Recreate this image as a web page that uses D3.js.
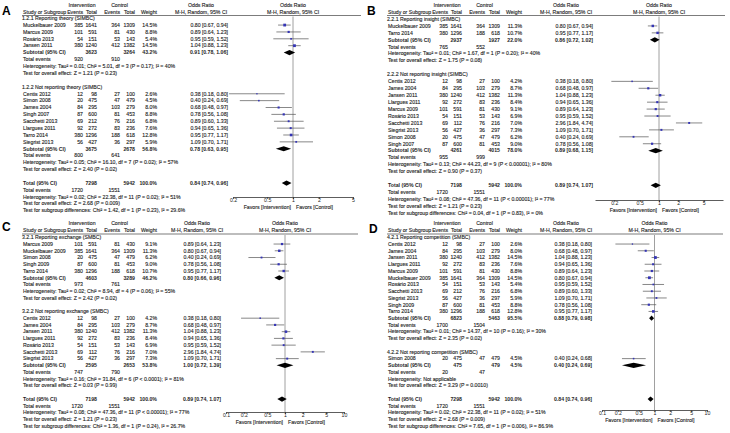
<!DOCTYPE html>
<html><head><meta charset="utf-8">
<script src="https://cdn.jsdelivr.net/npm/d3@7"></script>
<style>body{margin:0;background:#fff}svg{display:block}text{font-family:"Liberation Sans",Arial,sans-serif}</style>
</head><body><svg id="c" width="730" height="433"></svg>
<script>
// ---------- Panel A ----------
const aSubgroups = ["1.2.1 Reporting theory (SIMBC)", "1.2.2 Not reporting theory (SIMBC)"];
const aStudies1 = [
  ["Muckelbauer 2009",385,1641,364,1309,14.5,0.80,0.67,0.94],
  ["Marcus 2009",101,591,81,430,8.8,0.89,0.64,1.23],
  ["Rosário 2013",54,151,53,143,5.4,0.95,0.59,1.52],
  ["Jansen 2011",380,1240,412,1382,14.5,1.04,0.88,1.23]];
const aStudies2 = [
  ["Centis 2012",12,98,27,100,2.6,0.38,0.18,0.80],
  ["Simon 2008",20,475,47,479,4.5,0.40,0.24,0.69],
  ["James 2004",84,295,103,279,8.0,0.68,0.48,0.97],
  ["Singh 2007",87,600,81,453,8.8,0.78,0.56,1.08],
  ["Sacchetti 2013",69,212,76,216,6.8,0.89,0.60,1.33],
  ["Llargues 2011",92,272,83,236,7.6,0.94,0.65,1.36],
  ["Tarro 2014",380,1296,188,618,12.8,0.95,0.77,1.17],
  ["Siegrist 2013",56,427,36,297,5.9,1.09,0.70,1.71]];
const aSubtotals = [[3623,3264,43.2,0.91,0.78,1.06],[3675,2678,56.8,0.78,0.63,0.95]];
const aEvents = [[920,910],[800,641],[1720,1551]];
const aTotal = [7298,5942,100.0,0.84,0.74,0.96];
const aNotes = [
  "Heterogeneity: Tau² = 0.01; Chi² = 5.01, df = 3 (P = 0.17); I² = 40%",
  "Test for overall effect: Z = 1.21 (P = 0.23)",
  "Heterogeneity: Tau² = 0.05; Chi² = 16.10, df = 7 (P = 0.02); I² = 57%",
  "Test for overall effect: Z = 2.40 (P = 0.02)",
  "Heterogeneity: Tau² = 0.02; Chi² = 22.38, df = 11 (P = 0.02); I² = 51%",
  "Test for overall effect: Z = 2.68 (P = 0.009)",
  "Test for subgroup differences: Chi² = 1.42, df = 1 (P = 0.23), I² = 29.6%"];
const aTicks = [0.2,0.5,1,2,5];

// ---------- Panel B ----------
const bSubgroups = ["2.2.1 Reporting insight (SIMBC)", "2.2.2 Not reporting insight (SIMBC)"];
const bStudies1 = [
  ["Muckelbauer 2009",385,1641,364,1309,11.3,0.80,0.67,0.94],
  ["Tarro 2014",380,1296,188,618,10.7,0.95,0.77,1.17]];
const bStudies2 = [
  ["Centis 2012",12,98,27,100,4.2,0.38,0.18,0.80],
  ["James 2004",84,295,103,279,8.7,0.68,0.48,0.97],
  ["Jansen 2011",380,1240,412,1382,11.3,1.04,0.88,1.23],
  ["Llargues 2011",92,272,83,236,8.4,0.94,0.65,1.36],
  ["Marcus 2009",101,591,81,430,9.1,0.89,0.64,1.23],
  ["Rosário 2013",54,151,53,143,6.9,0.95,0.59,1.52],
  ["Sacchetti 2013",69,112,76,216,7.0,2.96,1.84,4.74],
  ["Siegrist 2013",56,427,36,297,7.3,1.09,0.70,1.71],
  ["Simon 2008",20,475,47,479,6.2,0.40,0.24,0.69],
  ["Singh 2007",87,600,81,453,9.0,0.78,0.56,1.08]];
const bSubtotals = [[2937,1927,22.0,0.86,0.72,1.02],[4261,4015,78.0,0.89,0.68,1.15]];
const bEvents = [[765,552],[955,999],[1720,1551]];
const bTotal = [7198,5942,100.0,0.89,0.74,1.07];
const bNotes = [
  "Heterogeneity: Tau² = 0.01; Chi² = 1.67, df = 1 (P = 0.20); I² = 40%",
  "Test for overall effect: Z = 1.75 (P = 0.08)",
  "Heterogeneity: Tau² = 0.13; Chi² = 44.23, df = 9 (P < 0.00001); I² = 80%",
  "Test for overall effect: Z = 0.90 (P = 0.37)",
  "Heterogeneity: Tau² = 0.08; Chi² = 47.36, df = 11 (P < 0.00001); I² = 77%",
  "Test for overall effect: Z = 1.21 (P = 0.23)",
  "Test for subgroup differences: Chi² = 0.04, df = 1 (P = 0.83), I² = 0%"];
const bTicks = [0.2,0.5,1,2,5];

// ---------- Panel C ----------
const cSubgroups = ["3.2.1 Reporting exchange (SMBC)", "3.2.2 Not reporting exchange (SMBC)"];
const cStudies1 = [
  ["Marcus 2009",101,591,81,430,9.1,0.89,0.64,1.23],
  ["Muckelbauer 2009",385,1641,364,1309,11.3,0.80,0.67,0.94],
  ["Simon 2008",20,475,47,479,6.2,0.40,0.24,0.69],
  ["Singh 2009",87,600,81,453,9.0,0.78,0.56,1.08],
  ["Tarro 2014",380,1296,188,618,10.7,0.95,0.77,1.17]];
const cStudies2 = [
  ["Centis 2012",12,98,27,100,4.2,0.38,0.18,0.80],
  ["James 2004",84,295,103,279,8.7,0.68,0.48,0.97],
  ["Jansen 2011",380,1240,412,1382,11.3,1.04,0.88,1.23],
  ["Llargues 2011",92,272,83,236,8.4,0.94,0.65,1.36],
  ["Rosário 2013",54,151,53,143,6.9,0.95,0.59,1.52],
  ["Sacchetti 2013",69,112,76,216,7.0,2.96,1.84,4.74],
  ["Siegrist 2013",56,427,36,297,7.3,1.09,0.70,1.71]];
const cSubtotals = [[4603,3289,46.2,0.80,0.66,0.96],[2595,2653,53.8,1.00,0.72,1.39]];
const cEvents = [[973,761],[747,790],[1720,1551]];
const cTotal = [7198,5942,100.0,0.89,0.74,1.07];
const cNotes = [
  "Heterogeneity: Tau² = 0.02; Chi² = 8.94, df = 4 (P = 0.06); I² = 55%",
  "Test for overall effect: Z = 2.42 (P = 0.02)",
  "Heterogeneity: Tau² = 0.16; Chi² = 31.84, df = 6 (P < 0.0001); I² = 81%",
  "Test for overall effect: Z = 0.03 (P = 0.99)",
  "Heterogeneity: Tau² = 0.08; Chi² = 47.36, df = 11 (P < 0.00001); I² = 77%",
  "Test for overall effect: Z = 1.21 (P = 0.23)",
  "Test for subgroup differences: Chi² = 1.36, df = 1 (P = 0.24), I² = 26.7%"];
const cTicks = [0.1,0.2,0.5,1,2,5,10];

// ---------- Panel D ----------
const dSubgroups = ["4.2.1 Reporting competition (SMBC)", "4.2.2 Not reporting competition (SMBC)"];
const dStudies1 = [
  ["Centis 2012",12,98,27,100,2.6,0.38,0.18,0.80],
  ["James 2004",84,295,103,279,8.0,0.68,0.48,0.97],
  ["Jansen 2011",380,1240,412,1382,14.5,1.04,0.88,1.23],
  ["Llargues 2011",92,272,83,236,7.6,0.94,0.65,1.36],
  ["Marcus 2009",101,591,81,430,8.8,0.89,0.64,1.23],
  ["Muckelbauer 2009",385,1641,364,1309,14.5,0.80,0.67,0.94],
  ["Rosário 2013",54,151,53,143,5.4,0.95,0.59,1.52],
  ["Sacchetti 2013",69,212,76,216,6.8,0.89,0.60,1.33],
  ["Siegrist 2013",56,427,36,297,5.9,1.09,0.70,1.71],
  ["Singh 2009",87,600,81,453,8.8,0.78,0.56,1.08],
  ["Tarro 2014",380,1296,188,618,12.8,0.95,0.77,1.17]];
const dStudies2 = [
  ["Simon 2008",20,475,47,479,4.5,0.40,0.24,0.68]];
const dSubtotals = [[6823,5463,95.5,0.88,0.79,0.98],[475,479,4.5,0.40,0.24,0.69]];
const dEvents = [[1700,1504],[20,47],[1720,1551]];
const dTotal = [7298,5942,100.0,0.84,0.74,0.96];
const dNotes = [
  "Heterogeneity: Tau² = 0.01; Chi² = 14.37, df = 10 (P = 0.16); I² = 30%",
  "Test for overall effect: Z = 2.35 (P = 0.02)",
  "Heterogeneity: Not applicable",
  "Test for overall effect: Z = 3.29 (P = 0.0010)",
  "Heterogeneity: Tau² = 0.02; Chi² = 22.38, df = 11 (P = 0.02); I² = 51%",
  "Test for overall effect: Z = 2.68 (P = 0.009)",
  "Test for subgroup differences: Chi² = 7.65, df = 1 (P = 0.006), I² = 86.9%"];
const dTicks = [0.1,0.2,0.5,1,2,5,10];

// ---------- drawing ----------
const svg = d3.select("#c");
const FS = 5.2, TXT = "#1e1e1e";
const f2 = d3.format(".2f");
const ciText = d => `${f2(d[0])} [${f2(d[1])}, ${f2(d[2])}]`;
const wText = w => d3.format(".1f")(w) + "%";

function drawPanel(P) {
  const g = svg.append("g").attr("transform", `translate(${P.x},${P.y})`);
  const C = {name: 23, ev1: 83, tot1: 97, ev2: 120, tot2: 135, w: 157};
  const T = (x, y, s, anchor, bold) => g.append("text").attr("x", x).attr("y", y)
      .attr("font-size", FS).attr("fill", TXT).attr("stroke", TXT).attr("stroke-width", bold ? 0 : 0.12)
      .attr("text-anchor", anchor || "start")
      .attr("font-weight", bold ? "bold" : "normal").text(s);

  g.append("text").attr("x", P.lx).attr("y", P.ly).attr("font-size", 12).attr("font-weight", "bold")
    .text(P.letter);

  const rows = [];
  [0, 1].forEach(k => {
    rows.push({t: "head", s: P.subgroups[k]});
    (k === 0 ? P.s1 : P.s2).forEach(d => rows.push({t: "study", d}));
    rows.push({t: "sub", d: P.subs[k]});
    rows.push({t: "ev", d: P.events[k]});
    rows.push({t: "note", s: P.notes[2 * k]});
    rows.push({t: "note", s: P.notes[2 * k + 1]});
    rows.push({t: "blank"});
  });
  rows.push({t: "total", d: P.total});
  rows.push({t: "ev", d: P.events[2]});
  rows.push({t: "note", s: P.notes[4]});
  rows.push({t: "note", s: P.notes[5]});
  rows.push({t: "note", s: P.notes[6]});

  const y = d3.scaleLinear().domain([0, rows.length - 1]).range([P.r0, P.r0 + (rows.length - 1) * P.step]);
  const x = d3.scaleLog().domain(P.domain).range(P.range);
  const cx = x(1);
  const mid = (P.range[0] + P.range[1]) / 2;

  T((C.ev1 - 16 + C.tot1) / 2, P.h1, "Intervention", "middle");
  T((C.ev2 - 16 + C.tot2) / 2, P.h1, "Control", "middle");
  T(P.orHead, P.h1, "Odds Ratio", "middle");
  T(mid, P.h1, "Odds Ratio", "middle");
  T(C.name, P.h2, "Study or Subgroup");
  T(C.ev1, P.h2, "Events", "end");
  T(C.tot1, P.h2, "Total", "end");
  T(C.ev2, P.h2, "Events", "end");
  T(C.tot2, P.h2, "Total", "end");
  T(C.w, P.h2, "Weight", "end");
  T(P.orHead, P.h2, "M-H, Random, 95% CI", "middle");
  T(mid, P.h2, "M-H, Random, 95% CI", "middle");
  g.append("line").attr("x1", C.name - 1).attr("x2", P.lineEnd).attr("y1", P.hl).attr("y2", P.hl)
    .attr("stroke", "#444").attr("stroke-width", 0.7);

  g.append("line").attr("x1", cx).attr("x2", cx).attr("y1", P.hl + 1).attr("y2", P.axisY)
    .attr("stroke", "#888").attr("stroke-width", 0.8);

  rows.forEach((r, i) => {
    const yy = y(i), by = yy + 1.8;
    if (r.t === "head") T(C.name - 1, by, r.s);
    else if (r.t === "note") T(C.name, by, r.s);
    else if (r.t === "ev") {
      T(C.name, by, "Total events");
      T(C.ev1, by, r.d[0], "end");
      T(C.ev2, by, r.d[1], "end");
    } else if (r.t === "study") {
      const d = r.d;
      T(C.name, by, d[0]);
      T(C.ev1, by, d[1], "end"); T(C.tot1, by, d[2], "end");
      T(C.ev2, by, d[3], "end"); T(C.tot2, by, d[4], "end");
      T(C.w, by, wText(d[5]), "end");
      T(P.orRight, by, ciText(d.slice(6)), "end");
      g.append("line").attr("x1", x(d[7])).attr("x2", x(d[8])).attr("y1", yy).attr("y2", yy)
        .attr("stroke", "#555").attr("stroke-width", 0.7);
      const s = Math.max(1.3, Math.sqrt(d[5] / 14.5) * 2.8);
      g.append("rect").attr("x", x(d[6]) - s / 2).attr("y", yy - s / 2).attr("width", s).attr("height", s)
        .attr("fill", "#3535b5");
    } else if (r.t === "sub" || r.t === "total") {
      const d = r.d;
      T(C.name, by, r.t === "sub" ? "Subtotal (95% CI)" : "Total (95% CI)", "start", true);
      T(C.tot1, by, d[0], "end", true);
      T(C.tot2, by, d[1], "end", true);
      T(C.w, by, wText(d[2]), "end", true);
      T(P.orRight, by, ciText(d.slice(3)), "end", true);
      const h = 2.6;
      g.append("path").attr("d", `M${x(d[4])},${yy}L${x(d[3])},${yy - h}L${x(d[5])},${yy}L${x(d[3])},${yy + h}Z`)
        .attr("fill", "#000");
    }
  });

  const ax = g.append("g").attr("transform", `translate(0,${P.axisY})`)
    .call(d3.axisBottom(x).tickValues(P.ticks).tickFormat(d => String(d)).tickSize(2).tickSizeOuter(0));
  ax.select(".domain").attr("stroke", "#333").attr("stroke-width", 0.8);
  ax.selectAll(".tick line").attr("stroke", "#333").attr("stroke-width", 0.8);
  ax.selectAll(".tick text").attr("font-size", FS).attr("fill", TXT).attr("dy", "0.55em").attr("y", 2.5)
    .attr("font-family", "Liberation Sans, Arial, sans-serif");
  T(cx - 2, P.axisY + 12, "Favors [Intervention]", "end");
  T(cx + 3, P.axisY + 12, "Favors [Control]", "start");
}

const topHdr = {h1: 7, h2: 13.5, hl: 15.5};
const botHdr = {h1: 7, h2: 13.5, hl: 16};
drawPanel({letter: "A", x: 0, y: 0, lx: 2, ly: 15, ...topHdr, r0: 18.2, step: 6.87,
  subgroups: aSubgroups, s1: aStudies1, s2: aStudies2, subs: aSubtotals, events: aEvents, total: aTotal, notes: aNotes,
  orRight: 228, orHead: 201, domain: [0.2, 5], range: [233, 353], ticks: aTicks, axisY: 197, lineEnd: 361});
drawPanel({letter: "B", x: 365, y: 0, lx: 2, ly: 15, ...topHdr, r0: 19, step: 6.93,
  subgroups: bSubgroups, s1: bStudies1, s2: bStudies2, subs: bSubtotals, events: bEvents, total: bTotal, notes: bNotes,
  orRight: 228, orHead: 201, domain: [0.1, 10], range: [230, 358], ticks: bTicks, axisY: 200, lineEnd: 360});
drawPanel({letter: "C", x: 0, y: 218, lx: 2, ly: 13, ...botHdr, r0: 19.3, step: 6.74,
  subgroups: cSubgroups, s1: cStudies1, s2: cStudies2, subs: cSubtotals, events: cEvents, total: cTotal, notes: cNotes,
  orRight: 221, orHead: 197, domain: [0.1, 10], range: [226, 344], ticks: cTicks, axisY: 194, lineEnd: 358});
drawPanel({letter: "D", x: 365, y: 218, lx: 4, ly: 15, ...botHdr, r0: 19.3, step: 6.74,
  subgroups: dSubgroups, s1: dStudies1, s2: dStudies2, subs: dSubtotals, events: dEvents, total: dTotal, notes: dNotes,
  orRight: 227, orHead: 201, domain: [0.1, 10], range: [237, 342], ticks: dTicks, axisY: 192, lineEnd: 358});
</script></body></html>
